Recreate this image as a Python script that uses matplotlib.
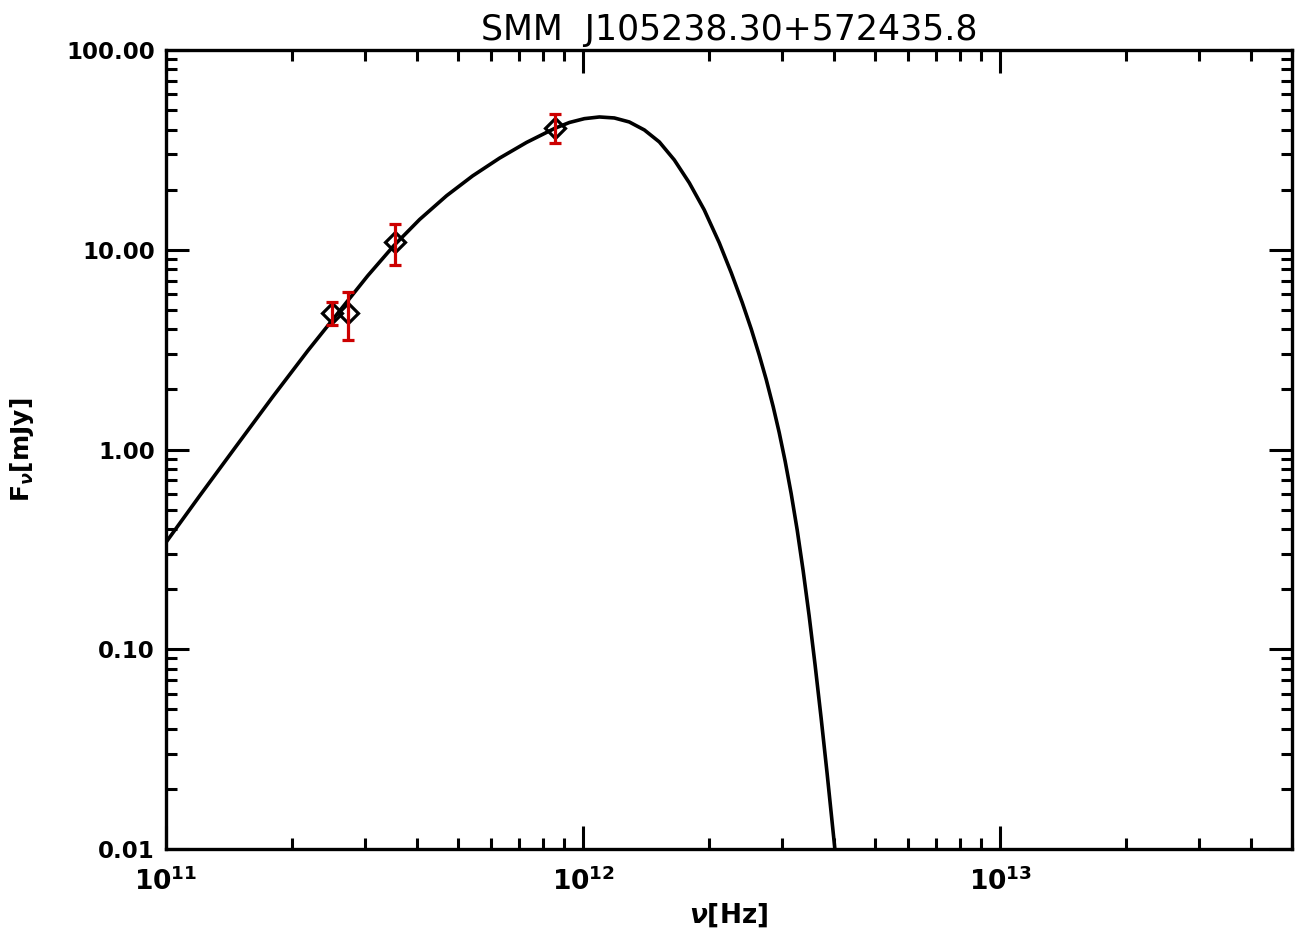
import numpy as np
import matplotlib
matplotlib.use("Agg")
import matplotlib.pyplot as plt
from matplotlib.ticker import FixedLocator, FormatStrFormatter, LogLocator, NullFormatter

plt.rcParams['font.family'] = ['DejaVu Sans']
plt.rcParams['mathtext.fontset'] = 'custom'
plt.rcParams['mathtext.it'] = 'DejaVu Sans:italic:bold'
plt.rcParams['mathtext.bf'] = 'DejaVu Sans:bold'
plt.rcParams['mathtext.rm'] = 'DejaVu Sans:bold'

title = "SMM  J105238.30+572435.8"

# model curve
nu_model = [1.000e11, 1.206e11, 1.471e11, 1.804e11, 2.188e11, 2.610e11, 3.045e11,
            3.514e11, 4.056e11, 4.707e11, 5.433e11, 6.304e11, 7.316e11, 8.539e11,
            9.273e11, 1.007e12, 1.094e12, 1.188e12, 1.290e12, 1.402e12, 1.523e12,
            1.654e12, 1.797e12, 1.951e12, 2.120e12, 2.265e12, 2.406e12, 2.529e12,
            2.643e12, 2.747e12, 2.855e12, 2.951e12, 3.050e12, 3.153e12, 3.260e12,
            3.369e12, 3.482e12, 3.598e12, 3.719e12, 3.845e12, 3.974e12, 4.018e12]
f_model = [0.343, 0.589, 1.035, 1.841, 3.126, 4.955, 7.413,
           10.47, 14.19, 18.66, 23.44, 28.77, 34.47, 40.51,
           43.40, 45.35, 46.24, 45.71, 43.65, 39.81, 34.67,
           28.18, 21.63, 15.85, 10.84, 7.674, 5.451, 4.013,
           2.975, 2.244, 1.639, 1.218, 0.874, 0.602, 0.395,
           0.247, 0.147, 0.0835, 0.0455, 0.0239, 0.01223, 0.00977]

# photometry
nu_obs = [2.50e11, 2.73e11, 3.53e11, 8.57e11]
f_obs = [4.83, 4.83, 10.9, 40.9]
f_err = [0.65, 1.3, 2.5, 6.8]

x_major = [1e11, 1e12, 1e13]
x_labels = [r"$\mathbf{10^{11}}$", r"$\mathbf{10^{12}}$", r"$\mathbf{10^{13}}$"]
y_major = [0.01, 0.1, 1, 10, 100]

fig = plt.figure(figsize=(12.97, 9.41), dpi=100)
ax = fig.add_axes([0.128, 0.0978, 0.868, 0.849])

ax.plot(nu_model, f_model, color="black", lw=2.6, zorder=2)
ax.plot(nu_obs, f_obs, ls="none", marker="D", ms=10, mfc="none", mec="black",
        mew=2.3, zorder=3)
ax.errorbar(nu_obs, f_obs, yerr=f_err, fmt="none", ecolor="#cc0000",
            elinewidth=2.3, capsize=4.5, capthick=2.3, zorder=4)

ax.set_xscale("log")
ax.set_yscale("log")
ax.set_xlim(1e11, 5e13)
ax.set_ylim(0.01, 100)

ax.xaxis.set_major_locator(FixedLocator(x_major))
ax.set_xticklabels(x_labels)
ax.yaxis.set_major_locator(FixedLocator(y_major))
ax.yaxis.set_major_formatter(FormatStrFormatter("%.2f"))
ax.yaxis.set_minor_locator(LogLocator(base=10, subs=np.arange(2, 10)))
ax.xaxis.set_minor_locator(LogLocator(base=10, subs=np.arange(2, 10)))
ax.yaxis.set_minor_formatter(NullFormatter())
ax.xaxis.set_minor_formatter(NullFormatter())

for s in ax.spines.values():
    s.set_linewidth(2.4)
ax.tick_params(which="both", direction="in", top=True, right=True, width=2.2)
ax.tick_params(which="major", length=16.5)
ax.tick_params(which="minor", length=8)
ax.tick_params(axis="x", which="major", pad=13, labelsize=19)
ax.tick_params(axis="y", which="major", pad=8, labelsize=16.5)
for lab in ax.get_yticklabels():
    lab.set_fontweight("bold")

ax.set_title(title, fontsize=25, pad=7)
ax.set_xlabel(r"$\nu$[Hz]", fontsize=19, fontweight="bold", labelpad=4)
ax.set_ylabel(r"F$_\nu$[mJy]", fontsize=18, fontweight="bold", labelpad=22)

fig.savefig("out.png", dpi=100)
